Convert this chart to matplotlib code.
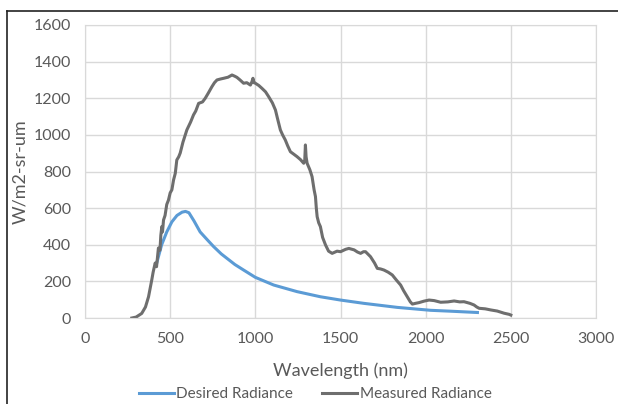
import matplotlib
matplotlib.use("Agg")
import matplotlib.pyplot as plt
from matplotlib.lines import Line2D

# measured radiance
meas_wl = [275, 300, 333, 355, 373, 392, 400, 412, 420, 431, 440, 445, 451, 455, 461, 470, 480, 490,
           500, 510, 520, 530, 539, 550, 559, 575, 598, 620, 637, 650, 667, 690, 706, 725, 745, 760,
           775, 795, 814, 840, 863, 880, 892, 910, 931, 950, 971, 980, 986, 992, 1000, 1020, 1039,
           1060, 1078, 1100, 1118, 1130, 1147, 1160, 1176, 1190, 1206, 1225, 1245, 1265, 1284, 1290,
           1294, 1298, 1304, 1320, 1333, 1345, 1353, 1358, 1363, 1372, 1382, 1395, 1412, 1430, 1451,
           1480, 1500, 1530, 1549, 1580, 1600, 1618, 1635, 1647, 1676, 1700, 1716, 1735, 1755, 1780,
           1804, 1830, 1853, 1870, 1892, 1910, 1922, 1940, 1961, 1990, 2020, 2050, 2088, 2130, 2167,
           2200, 2225, 2260, 2284, 2300, 2314, 2350, 2382, 2420, 2461, 2490, 2500]
meas_val = [0, 5, 25, 60, 116, 208, 250, 300, 280, 382, 370, 450, 499, 470, 535, 560, 620, 644,
            683, 700, 754, 790, 863, 880, 901, 960, 1027, 1070, 1109, 1130, 1172, 1180, 1200, 1230,
            1263, 1285, 1300, 1305, 1309, 1315, 1327, 1320, 1314, 1300, 1282, 1285, 1272, 1290, 1309,
            1285, 1282, 1270, 1254, 1235, 1209, 1175, 1136, 1090, 1027, 1000, 972, 940, 908, 895, 881,
            865, 845, 860, 945, 880, 845, 810, 772, 700, 663, 600, 553, 520, 499, 440, 399, 365, 353,
            365, 362, 375, 380, 372, 360, 353, 362, 362, 335, 300, 271, 268, 262, 250, 235, 205, 180,
            150, 116, 88, 76, 80, 84, 92, 98, 95, 86, 88, 93, 88, 89, 80, 71, 60, 53, 50, 44, 38, 26,
            20, 16]

# desired radiance
des_wl = [421, 450, 480, 510, 540, 570, 590, 610, 640, 676, 720, 755, 800, 833, 880, 931, 1000,
          1108, 1245, 1382, 1500, 1637, 1833, 2029, 2150, 2304]
des_val = [300, 400, 470, 525, 560, 578, 582, 575, 530, 470, 425, 390, 350, 326, 292, 262, 222,
           180, 144, 116, 98, 80, 58, 42, 37, 30]

plt.rcParams['font.family'] = ['Lato', 'DejaVu Sans']
txt = '#595959'

fig = plt.figure(figsize=(6.18, 4.04), dpi=100)
ax = fig.add_axes([85 / 618, 86 / 404, 511 / 618, 293 / 404])

ax.plot(des_wl, des_val, color='#5B9BD5', lw=2.2, label='Desired Radiance')
ax.plot(meas_wl, meas_val, color='#6E6E6E', lw=2.2, label='Measured Radiance')

ax.set_xlim(0, 3000)
ax.set_ylim(0, 1600)
ax.set_xticks(range(0, 3001, 500))
ax.set_yticks(range(0, 1601, 200))
ax.grid(True, color='#d9d9d9', lw=1)
ax.set_axisbelow(True)
for s in ax.spines.values():
    s.set_color('#d9d9d9')
ax.tick_params(length=0, labelsize=11.5, labelcolor=txt, pad=10)
ax.set_xlabel('Wavelength (nm)', fontsize=13, color=txt, labelpad=12)
ax.set_ylabel('W/m2-sr-um', fontsize=13, color=txt, labelpad=4)

leg = fig.legend(loc='center', bbox_to_anchor=(0.51, 10 / 404), ncol=2, frameon=False,
                 fontsize=11, handlelength=2.3, columnspacing=1.9, handletextpad=0.15)
for t in leg.get_texts():
    t.set_color(txt)

# document frame lines
fig.add_artist(Line2D([7 / 618, 7 / 618], [0, 1 - 11 / 404], color='#222222', lw=1.2))
fig.add_artist(Line2D([7 / 618, 1], [1 - 11 / 404, 1 - 11 / 404], color='#222222', lw=1.2))

fig.savefig('out.png', dpi=100)
